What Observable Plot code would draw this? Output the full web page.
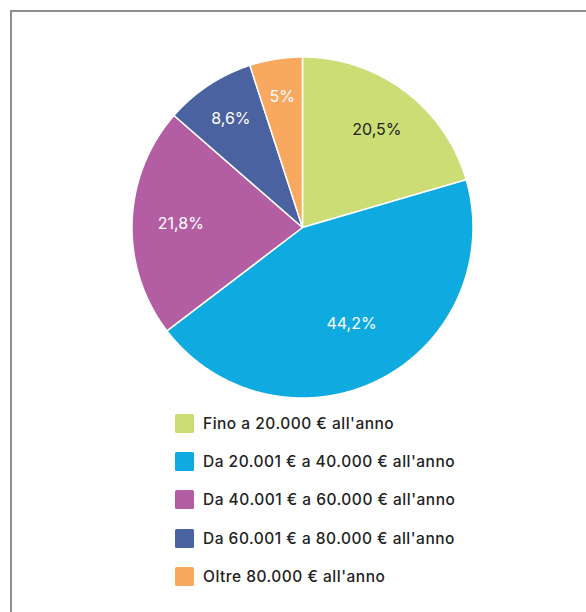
<!DOCTYPE html>
<html>
<head>
<meta charset="utf-8">
<script src="https://cdn.jsdelivr.net/npm/d3@7"></script>
<script src="https://cdn.jsdelivr.net/npm/@observablehq/plot@0.6"></script>
<style>
  html, body { margin: 0; padding: 0; background: #fff; overflow: hidden; }
  body { width: 586px; height: 612px; position: relative; font-family: Inter, "Noto Sans", sans-serif; }
  #frame { position: absolute; left: 10px; top: 10px; width: 2000px; height: 2000px; border: 2px solid #8e8e8e; box-sizing: border-box; }
  #chart { position: absolute; left: 0; top: 0; }
  #legend { position: absolute; left: 175px; top: 404px; }
  .row { display: flex; align-items: center; height: 38.3px; font-size: 15.5px; font-weight: 500; letter-spacing: 0.5px; color: #222; }
  .sw { width: 19px; height: 19px; border-radius: 1.5px; margin-right: 9px; flex: none; }
</style>
</head>
<body>
<div id="frame"></div>
<div id="chart"></div>
<div id="legend"></div>
<script>
const categories = [
  "Fino a 20.000 € all'anno",
  "Da 20.001 € a 40.000 € all'anno",
  "Da 40.001 € a 60.000 € all'anno",
  "Da 60.001 € a 80.000 € all'anno",
  "Oltre 80.000 € all'anno"
];
const values = [20.5, 44.2, 21.8, 8.6, 5];
const labels = ["20,5%", "44,2%", "21,8%", "8,6%", "5%"];
const colors = ["#cbdd74", "#0eaae0", "#b35ea3", "#4a63a0", "#f9a95f"];
const labelColors = ["#222222", "#ffffff", "#ffffff", "#ffffff", "#ffffff"];

const total = d3.sum(values);
const pie = d3.pie().sort(null).value(d => d)(values);

// wedge outlines in unit coordinates (angle 0 at top, clockwise)
const wedge = [];
pie.forEach((p, i) => {
  const n = Math.max(2, Math.ceil((p.endAngle - p.startAngle) / 0.005));
  for (let k = 0; k <= n; k++) {
    const a = p.startAngle + (p.endAngle - p.startAngle) * k / n;
    wedge.push({cat: categories[i], x: Math.sin(a), y: Math.cos(a), x0: 0, y0: 0});
  }
});
const labelData = pie.map((p, i) => {
  const a = (p.startAngle + p.endAngle) / 2;
  const f = values[i] / total;
  const rr = 0.80 - 0.38 * f;
  return {cat: categories[i], label: labels[i], color: labelColors[i], x: rr * Math.sin(a), y: rr * Math.cos(a)};
});

const cx = 302.5, cy = 227.5, R = 170.5;
const W = 586, H = 404;
const plot = Plot.plot({
  width: W,
  height: H,
  marginLeft: cx - R, marginRight: W - cx - R,
  marginTop: cy - R, marginBottom: H - cy - R,
  x: {domain: [-1, 1], axis: null},
  y: {domain: [-1, 1], axis: null},
  color: {domain: categories, range: colors},
  style: {background: "transparent", overflow: "visible"},
  marks: [
    Plot.area(wedge, {x1: "x", y1: "y", x2: "x0", y2: "y0", z: "cat", fill: "cat", stroke: "#fff", strokeWidth: 1.5, strokeLinejoin: "round", curve: "linear"}),
    Plot.text(labelData, {x: "x", y: "y", text: "label", fill: "color", fontSize: 16, fontFamily: "Inter, 'Noto Sans', sans-serif", fontWeight: 400, letterSpacing: 0.4})
  ]
});
document.getElementById("chart").appendChild(plot);

const legend = document.getElementById("legend");
const color = plot.scale("color");
categories.forEach(c => {
  const row = document.createElement("div");
  row.className = "row";
  const sw = document.createElement("div");
  sw.className = "sw";
  sw.style.background = color.apply(c);
  const t = document.createElement("span");
  t.textContent = c;
  row.appendChild(sw);
  row.appendChild(t);
  legend.appendChild(row);
});
</script>
</body>
</html>
